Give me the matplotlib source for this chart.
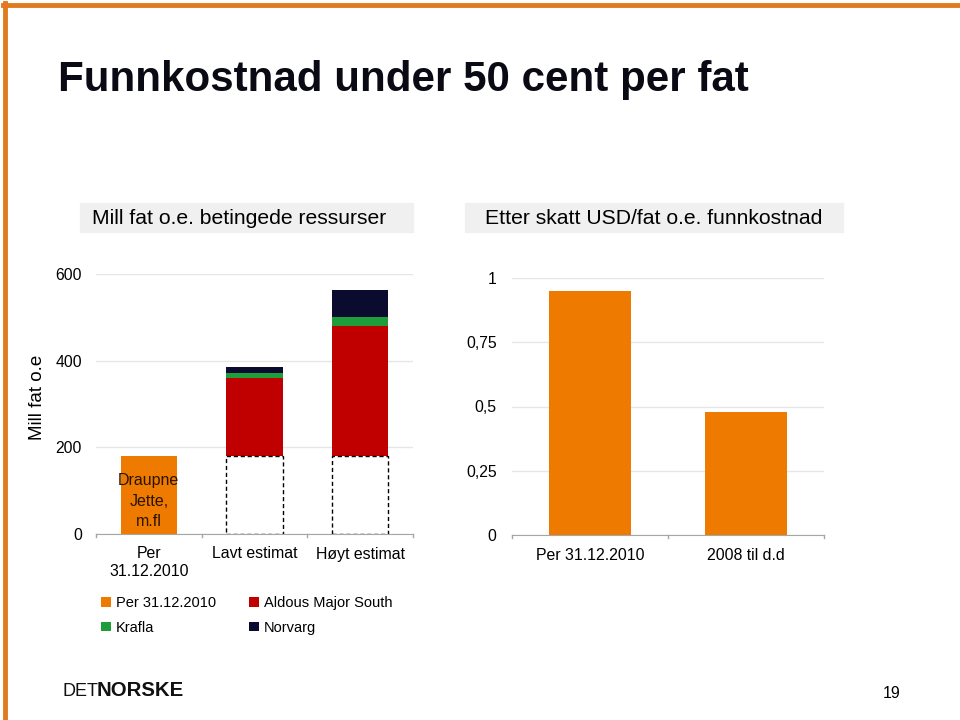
import numpy as np
import matplotlib.pyplot as plt
from matplotlib.patches import Rectangle
from matplotlib.lines import Line2D

plt.rcParams['font.family'] = ['Liberation Sans', 'DejaVu Sans']

# venstre diagram: betingede ressurser (mill fat o.e.)
left_cats = ['Per\n31.12.2010', 'Lavt estimat', 'Høyt estimat']
per_2010 = [180, 0, 0]
base = [0, 180, 180]          # stiplet grunnlag (= per 31.12.2010)
aldous = [0, 180, 300]
krafla = [0, 12, 20]
norvarg = [0, 13, 63]
left_ticks = [0, 200, 400, 600]

# hoyre diagram: funnkostnad USD/fat o.e.
right_cats = ['Per 31.12.2010', '2008 til d.d']
right_vals = [0.95, 0.48]
right_ticks = [0, 0.25, 0.5, 0.75, 1]
right_ticklabels = ['0', '0,25', '0,5', '0,75', '1']

c_orange = '#EE7B00'
c_red = '#C00000'
c_green = '#1E9E3A'
c_navy = '#0B0B30'
c_grid = '#E6E6E6'
c_axis = '#A6A6A6'

fig = plt.figure(figsize=(9.6, 7.2), dpi=100)

# oransje ramme
fig.add_artist(Line2D([0.003, 1.0], [0.9935, 0.9935], color='#E07B20', lw=3.5, transform=fig.transFigure))
fig.add_artist(Line2D([0.0047, 0.0047], [0.0, 0.996], color='#E07B20', lw=3.5, transform=fig.transFigure))

fig.text(58/960, 1 - 80/720, 'Funnkostnad under 50 cent per fat', fontsize=30.3,
         fontweight='bold', va='center', ha='left', color='#0a0a14')

# overskriftsbokser
fig.add_artist(Rectangle((80/960, 1 - 232/720), 333/960, 29/720, color='#F0F0F0', transform=fig.transFigure))
fig.add_artist(Rectangle((465/960, 1 - 232/720), 378/960, 29/720, color='#F0F0F0', transform=fig.transFigure))
fig.text(92/960, 1 - 218/720, 'Mill fat o.e. betingede ressurser', fontsize=15.2, va='center', ha='left')
fig.text(654/960, 1 - 218/720, 'Etter skatt USD/fat o.e. funnkostnad', fontsize=15.2, va='center', ha='center')


def style(ax, ypad):
    for s in ['top', 'right', 'left']:
        ax.spines[s].set_visible(False)
    ax.spines['bottom'].set_color(c_axis)
    ax.yaxis.grid(True, color=c_grid, lw=1)
    ax.set_axisbelow(True)
    ax.tick_params(axis='y', length=0, labelsize=11.3, pad=ypad)
    ax.tick_params(axis='x', length=0, labelsize=11.4, pad=9)


# venstre
ax1 = fig.add_axes([96/960, 1 - 534/720, 317/960, 260/720])
x = np.arange(len(left_cats))
w = 0.53
ax1.bar(x, per_2010, w, color=c_orange, label='Per 31.12.2010')
ax1.bar(x[1:], base[1:], w, facecolor='white', edgecolor='black', linestyle=(0, (3, 2)), lw=1, zorder=2)
ax1.bar(x, aldous, w, bottom=base, color=c_red, label='Aldous Major South')
b2 = np.array(base) + np.array(aldous)
ax1.bar(x, krafla, w, bottom=b2, color=c_green, label='Krafla')
b3 = b2 + np.array(krafla)
ax1.bar(x, norvarg, w, bottom=b3, color=c_navy, label='Norvarg')
ax1.set_xlim(-0.5, 2.5)
ax1.set_ylim(0, 600)
ax1.set_yticks(left_ticks)
ax1.set_xticks(x)
ax1.set_xticklabels(left_cats)
style(ax1, 10)
for xb in [-0.5, 0.5, 1.5, 2.5]:
    ax1.plot([xb, xb], [0, -8], color=c_axis, lw=1, clip_on=False)
ax1.text(0, 76, 'Draupne\nJette,\nm.fl', ha='center', va='center', fontsize=11.5,
         color='#2a1400', linespacing=1.45)
fig.text(38/960, 1 - 397/720, 'Mill fat o.e', fontsize=13.5, rotation=90, va='center', ha='center')

# hoyre
ax2 = fig.add_axes([512/960, 1 - 535/720, 312/960, 257/720])
x2 = np.arange(len(right_cats))
ax2.bar(x2, right_vals, w, color=c_orange)
ax2.set_xlim(-0.5, 1.5)
ax2.set_ylim(0, 1)
ax2.set_yticks(right_ticks)
ax2.set_yticklabels(right_ticklabels)
ax2.set_xticks(x2)
ax2.set_xticklabels(right_cats)
style(ax2, 11)
for xb in [-0.5, 0.5, 1.5]:
    ax2.plot([xb, xb], [0, -0.013], color=c_axis, lw=1, clip_on=False)

# forklaring
h, l = ax1.get_legend_handles_labels()
order = [0, 2, 1, 3]
fig.legend([h[i] for i in order], [l[i] for i in order], ncol=2, frameon=False,
           loc='upper left', bbox_to_anchor=(88/960, 1 - 583/720), fontsize=10.5,
           handlelength=0.65, handleheight=0.65, handletextpad=0.35, columnspacing=2.3,
           labelspacing=0.72)

# logo og sidetall
fig.text(62/960, 1 - 696/720, 'DET', fontsize=13, va='baseline', ha='left', color='#111111')
fig.text(97/960, 1 - 696/720, 'NORSKE', fontsize=14.7, fontweight='bold', va='baseline', ha='left', color='#111111')
fig.text(892/960, 1 - 694/720, '19', fontsize=11.5, va='center', ha='center')

fig.savefig('out.png', dpi=100)
